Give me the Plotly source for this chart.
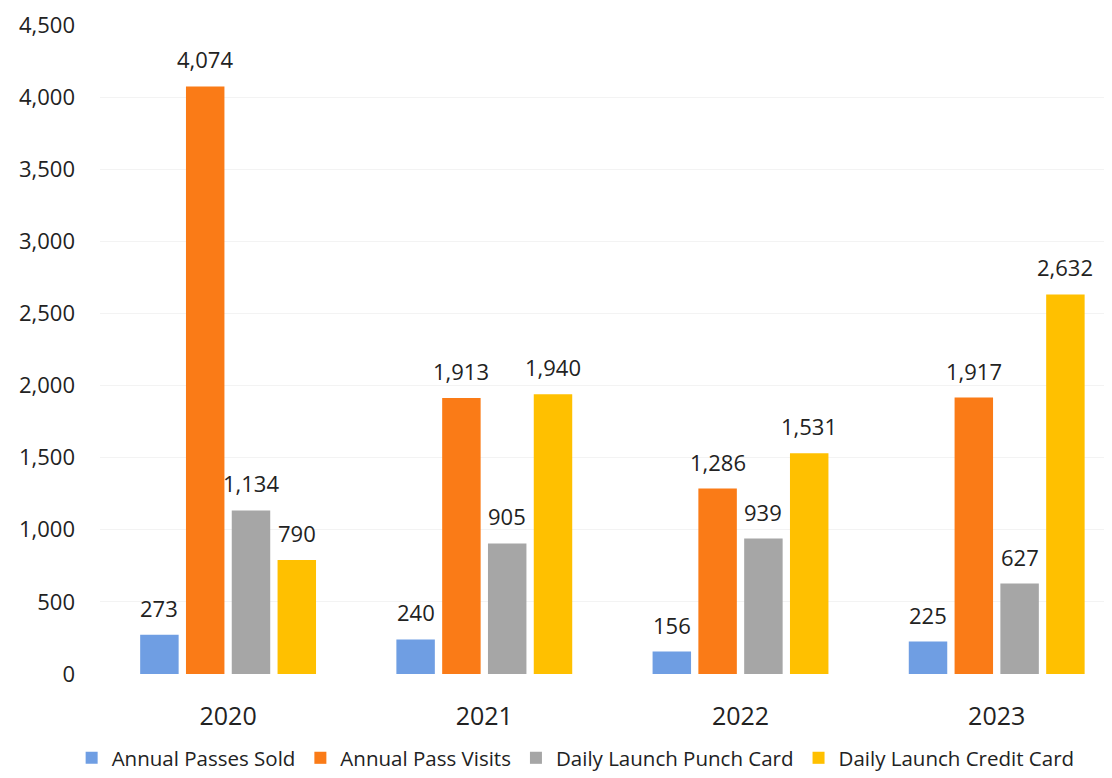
import plotly.graph_objects as go

years = ["2020", "2021", "2022", "2023"]
annual_passes_sold = [273, 240, 156, 225]
annual_pass_visits = [4074, 1913, 1286, 1917]
daily_punch_card = [1134, 905, 939, 627]
daily_credit_card = [790, 1940, 1531, 2632]

series = [
    ("Annual Passes Sold", annual_passes_sold, "#6F9EE3"),
    ("Annual Pass Visits", annual_pass_visits, "#FA7B17"),
    ("Daily Launch Punch Card", daily_punch_card, "#A6A6A6"),
    ("Daily Launch Credit Card", daily_credit_card, "#FFC000"),
]

# page body adds an 8px margin, so the figure is a bit smaller than the window
W, H = 1104, 770
ML = 92

# geometry used to place the value labels over each bar
x_range = [-0.5, 3.45]
plot_w = W - ML
bargap = 0.285
cat_px = plot_w / (x_range[1] - x_range[0])
slot_px = cat_px * (1 - bargap) / len(series)

fig = go.Figure()
for i, (name, vals, color) in enumerate(series):
    fig.add_trace(go.Bar(
        x=years, y=vals, name=name,
        marker=dict(color=color, line=dict(width=0)),
        cliponaxis=False,
    ))
    # value labels sit a bit above the bar top (x given as category index)
    for j, v in enumerate(vals):
        fig.add_annotation(
            x=j, y=v, text=f"{v:,}", showarrow=False,
            xshift=(i - 1.5) * slot_px, yshift=10, yanchor="bottom",
            font=dict(size=22, color="#222222"),
        )

fig.update_layout(
    width=W, height=H,
    margin=dict(l=ML, r=0, t=17, b=104),
    paper_bgcolor="white", plot_bgcolor="white",
    font=dict(family="Open Sans", color="#222222"),
    barmode="group",
    bargap=bargap,
    bargroupgap=0.16,
    showlegend=True,
    legend=dict(
        orientation="h", x=0.47, xanchor="center",
        yref="container", y=-0.008, yanchor="bottom",
        font=dict(size=20.5), itemwidth=30, tracegroupgap=0,
    ),
)
fig.update_xaxes(
    type="category",
    range=x_range, showline=False, showgrid=False, automargin=False,
    tickfont=dict(size=25), ticks="outside", ticklen=20, tickcolor="white",
)
fig.update_yaxes(
    range=[0, 4500], tickvals=list(range(0, 4501, 500)), tickformat=",",
    showgrid=True, gridcolor="#F3F3F3", zeroline=False, showline=False,
    automargin=False, tickfont=dict(size=22), ticklabelstandoff=24,
    ticklabeloverflow="allow",
)

fig.write_html("out.html")
